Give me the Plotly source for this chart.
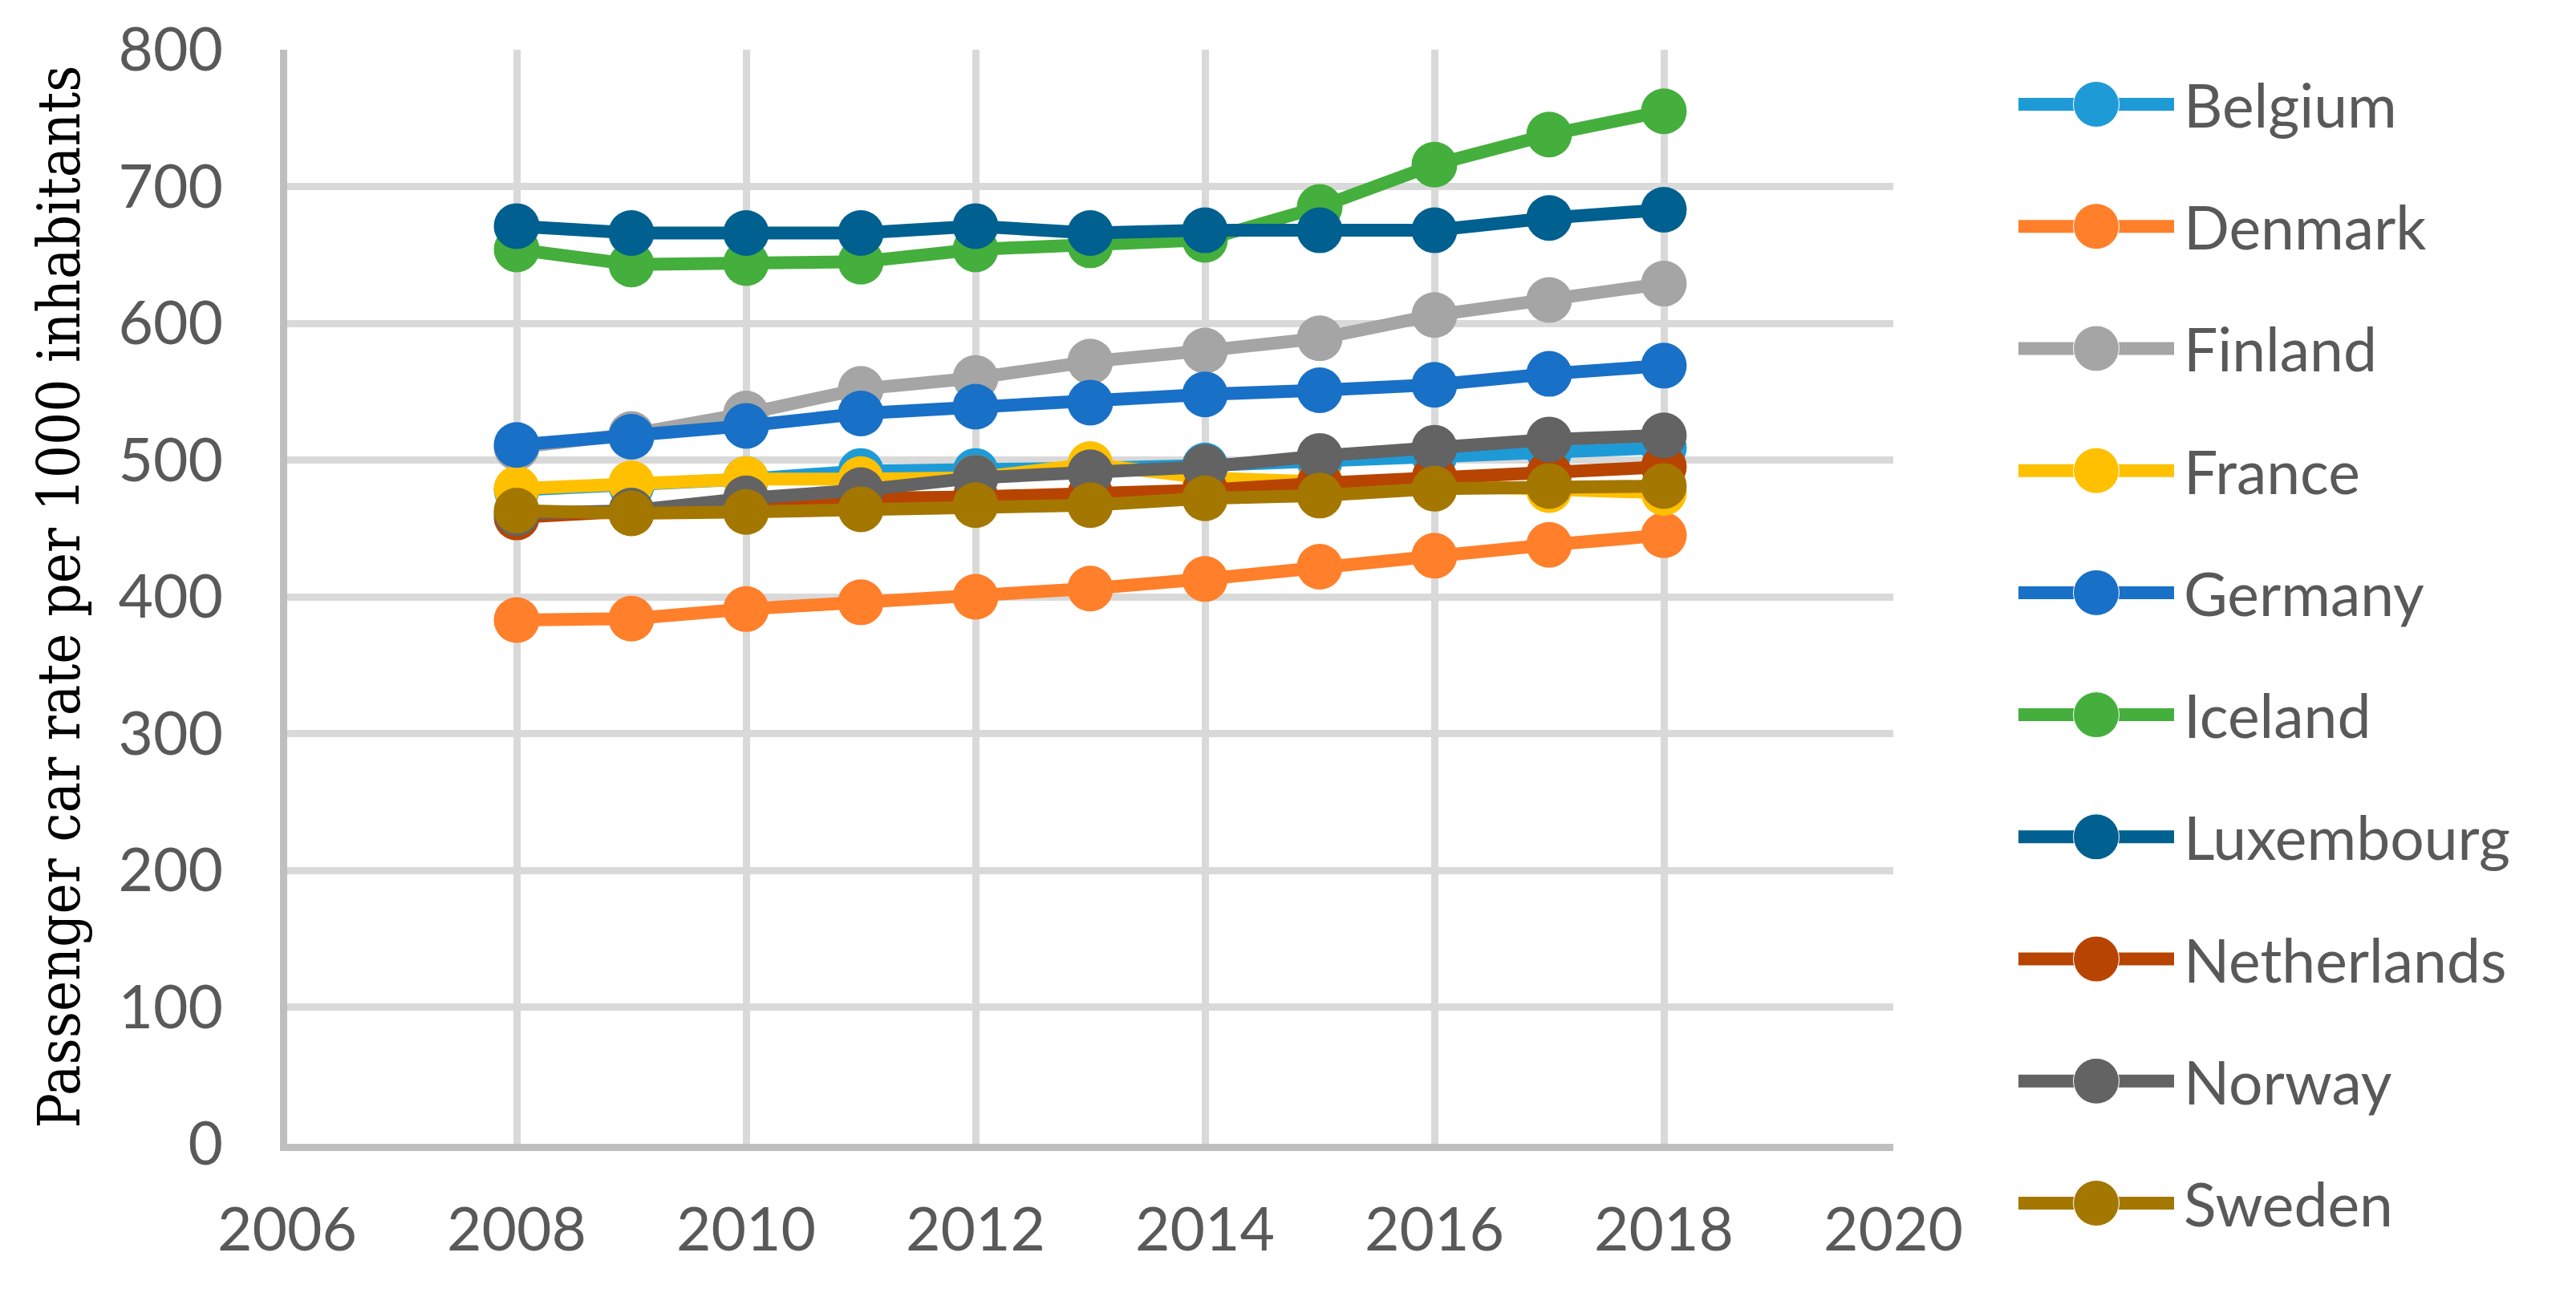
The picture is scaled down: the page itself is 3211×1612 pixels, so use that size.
import plotly.graph_objects as go

years = [2008, 2009, 2010, 2011, 2012, 2013, 2014, 2015, 2016, 2017, 2018]

countries = ["Belgium", "Denmark", "Finland", "France", "Germany",
             "Iceland", "Luxembourg", "Netherlands", "Norway", "Sweden"]

belgium = [478, 481, 486, 492, 492, 494, 496, 499, 503, 506, 509]
denmark = [383, 384, 391, 396, 400, 406, 413, 422, 430, 438, 445]
finland = [509, 519, 534, 552, 560, 572, 580, 589, 606, 617, 629]
france = [479, 483, 486, 486, 487, 497, 487, 484, 481, 478, 476]
germany = [511, 517, 525, 534, 539, 542, 548, 551, 555, 563, 569]
iceland = [654, 643, 644, 645, 654, 657, 661, 685, 716, 738, 755]
luxembourg = [671, 666, 666, 666, 671, 666, 668, 668, 668, 677, 683]
netherlands = [458, 462, 467, 472, 473, 475, 478, 483, 487, 490, 495]
norway = [461, 463, 472, 478, 487, 491, 495, 503, 509, 515, 518]
sweden = [463, 461, 462, 464, 467, 467, 472, 474, 479, 481, 481]

series = [belgium, denmark, finland, france, germany,
          iceland, luxembourg, netherlands, norway, sweden]

colors = ["#1E9BD7", "#FF7F2A", "#A5A5A5", "#FFC000", "#1870C7",
          "#44AF3C", "#00608F", "#B74400", "#636363", "#A47700"]

y_ticks = [0, 100, 200, 300, 400, 500, 600, 700, 800]
x_ticks = [2006, 2008, 2010, 2012, 2014, 2016, 2018, 2020]

# page has a default 8px body margin; work in page pixels and offset
OFF = 8
W, H = 3211 - 2 * OFF, 1612 - 2 * OFF
ML, MR, MT, MB = 350, 30, 10, 10
PW = W - ML - MR
PH = H - MT - MB

def fx(px):
    return (px - OFF - ML) / PW

def fy(py):
    return (H - MB - (py - OFF)) / PH

fig = go.Figure()

for name, vals, col in zip(countries, series, colors):
    fig.add_trace(go.Scatter(
        x=years, y=vals, name=name, mode="lines+markers",
        line=dict(color=col, width=16),
        marker=dict(color=col, size=57, symbol="circle", opacity=1),
        showlegend=False, cliponaxis=False,
        xaxis="x", yaxis="y",
    ))

# custom legend drawn on a hidden subplot (one row per country)
annotations = []
for i, (name, col) in enumerate(zip(countries, colors)):
    fig.add_trace(go.Scatter(
        x=[0, 0.5, 1], y=[i, i, i], mode="lines+markers",
        line=dict(color=col, width=16),
        marker=dict(color=col, size=[0, 57, 0], opacity=1),
        showlegend=False, cliponaxis=False, hoverinfo="skip",
        xaxis="x2", yaxis="y2",
    ))
    annotations.append(dict(
        x=1, y=i, xref="x2", yref="y2", text=name, showarrow=False,
        xanchor="left", yanchor="middle", xshift=10,
        font=dict(family="Lato", size=75, color="#595959"),
    ))

tickfont = dict(family="Lato", size=75, color="#595959")

row_gap = (1500 - 130) / 9.0

fig.update_layout(
    width=W, height=H,
    margin=dict(l=ML, r=MR, t=MT, b=MB, autoexpand=False),
    paper_bgcolor="white", plot_bgcolor="white",
    showlegend=False,
    annotations=annotations,
    xaxis=dict(
        domain=[fx(358), fx(2360)], range=[2006, 2020],
        tickmode="array", tickvals=x_ticks, ticktext=[str(v) for v in x_ticks],
        showgrid=True, gridcolor="#D9D9D9", gridwidth=9,
        showline=True, linecolor="#BFBFBF", linewidth=9,
        zeroline=False, ticks="", tickfont=tickfont,
        ticklabelstandoff=34, anchor="y",
    ),
    yaxis=dict(
        domain=[fy(1426), fy(62)], range=[0, 800],
        tickmode="array", tickvals=y_ticks, ticktext=[str(v) for v in y_ticks],
        showgrid=True, gridcolor="#D9D9D9", gridwidth=9,
        showline=True, linecolor="#BFBFBF", linewidth=9,
        zeroline=False, ticks="", tickfont=tickfont,
        ticklabelstandoff=56, anchor="x",
        title=dict(text="Passenger car rate per 1000 inhabitants",
                   font=dict(family="DejaVu Serif Condensed, DejaVu Serif", size=72, color="#000000"),
                   standoff=28),
    ),
    xaxis2=dict(domain=[fx(2516), fx(2710)], range=[0, 1], visible=False,
                anchor="y2", fixedrange=True),
    yaxis2=dict(domain=[fy(1500 + row_gap / 2), fy(130 - row_gap / 2)],
                range=[9.5, -0.5], visible=False,
                anchor="x2", fixedrange=True),
)

fig.write_html("out.html")
